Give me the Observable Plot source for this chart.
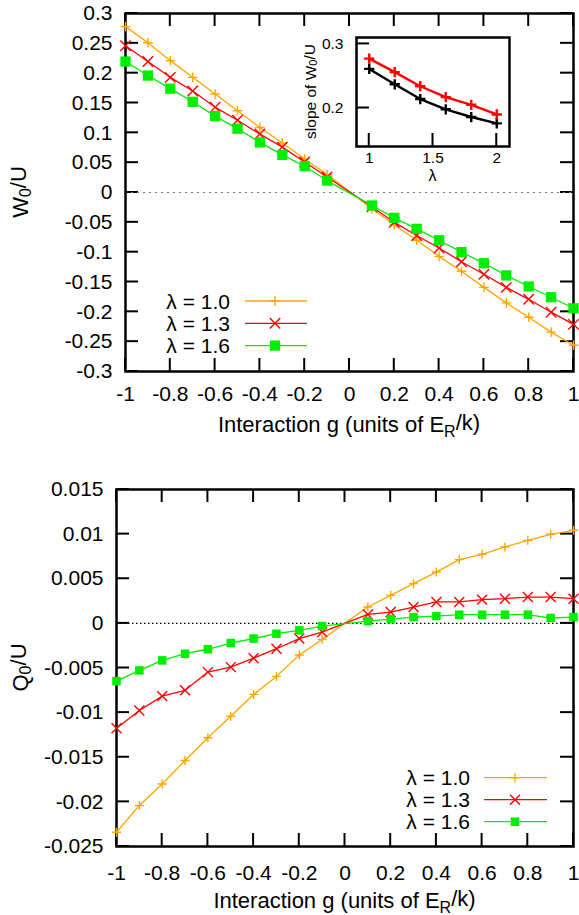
<!DOCTYPE html>
<html><head><meta charset="utf-8">
<script src="https://cdn.jsdelivr.net/npm/d3@7"></script>
<script src="https://cdn.jsdelivr.net/npm/@observablehq/plot@0.6"></script>
<style>
body{margin:0;background:#fff;}
#wrap{position:relative;width:579px;height:915px;background:#fff;font-family:"Liberation Sans",Arial,Helvetica,sans-serif;}
#wrap svg{position:absolute;overflow:visible;}
</style></head><body><div id="wrap"></div>
<script>
// ---------------- data ----------------
const gValues = [-1,-0.9,-0.8,-0.7,-0.6,-0.5,-0.4,-0.3,-0.2,-0.1,0.1,0.2,0.3,0.4,0.5,0.6,0.7,0.8,0.9,1];
const seriesNames = ["λ = 1.0","λ = 1.3","λ = 1.6"];
const seriesColors = ["#ffa500","#ff0000","#00ee00"];
const seriesSymbols = ["plus","times","square"];

// W0/U (top panel)
const W_l10 = [0.278,0.251,0.221,0.193,0.165,0.137,0.109,0.083,0.056,0.030,-0.027,-0.054,-0.080,-0.107,-0.132,-0.159,-0.185,-0.209,-0.234,-0.256];
const W_l13 = [0.246,0.2195,0.193,0.170,0.143,0.121,0.098,0.076,0.051,0.026,-0.024,-0.050,-0.072,-0.093,-0.116,-0.137,-0.159,-0.179,-0.2006,-0.221];
const W_l16 = [0.2195,0.196,0.174,0.152,0.128,0.107,0.084,0.063,0.044,0.020,-0.0218,-0.0425,-0.061,-0.080,-0.100,-0.1185,-0.139,-0.1575,-0.1755,-0.194];

// Q0/U (bottom panel)
const Q_l10 = [-0.0234,-0.0204,-0.0180,-0.01536,-0.01282,-0.0104,-0.00796,-0.00594,-0.00355,-0.00179,0.00183,0.00314,0.00445,0.00575,0.00714,0.00774,0.00856,0.0093,0.00998,0.01043];
const Q_l13 = [-0.01174,-0.00976,-0.00815,-0.0075,-0.00546,-0.0049,-0.0039,-0.00284,-0.0017,-0.00097,0.0010,0.00127,0.00183,0.0024,0.0024,0.00266,0.00277,0.00295,0.00295,0.00277];
const Q_l16 = [-0.00647,-0.00527,-0.00415,-0.0034,-0.0029,-0.0022,-0.0017,-0.00116,-0.00078,-0.0003,0.00026,0.00048,0.0007,0.00082,0.00097,0.00097,0.00097,0.00097,0.0006,0.0007];

// inset: slope of W0/U vs lambda
const insetLambda = [1,1.2,1.4,1.6,1.8,2];
const slopeRed = [0.277,0.256,0.234,0.217,0.205,0.190];
const slopeBlack = [0.261,0.237,0.214,0.198,0.186,0.176];

// ticks
const xTicks = [-1,-0.8,-0.6,-0.4,-0.2,0,0.2,0.4,0.6,0.8,1];
const yTicksW = [-0.3,-0.25,-0.2,-0.15,-0.1,-0.05,0,0.05,0.1,0.15,0.2,0.25,0.3];
const yTicksQ = [-0.025,-0.02,-0.015,-0.01,-0.005,0,0.005,0.01,0.015];
const insetXTicks = [1,1.5,2];
const insetYTicks = [0.2,0.3];

// --------------- drawing ---------------
const FONT = '"Liberation Sans", Arial, Helvetica, sans-serif';
const hy = d => Math.abs(d) < 1e-12 ? "0" : String(+(+d).toFixed(4));
const wrap = d3.select("#wrap");
const symType = {plus: d3.symbolPlus, times: d3.symbolTimes, square: d3.symbolSquare};
const TL = 13; // inward tick length (px)

// inward ticks, positioned with the plot's own scales, placed beneath the data
function addInwardTicks(p, xt, yt, sides, box){
  const svg = d3.select(p);
  const sx = p.scale("x"), sy = p.scale("y");
  const g = svg.insert("g", "g").style("stroke","#000").style("stroke-width","2px");
  const {x0, x1, y0, y1} = box;
  xt.forEach(v=>{
    const x = sx.apply(v);
    if (sides.includes("b")) g.append("path").attr("d",`M${x},${y1}V${y1-TL}`);
    if (sides.includes("t")) g.append("path").attr("d",`M${x},${y0}V${y0+TL}`);
  });
  yt.forEach(v=>{
    const y = sy.apply(v);
    if (sides.includes("l")) g.append("path").attr("d",`M${x0},${y}H${x0+TL}`);
    if (sides.includes("r")) g.append("path").attr("d",`M${x1},${y}H${x1-TL}`);
  });
}

function rowsOf(vals){ return gValues.map((g,i)=>({g, v: vals[i]})); }

function mainPanel(cfg){
  const marks = [
    Plot.ruleY([0], {stroke: cfg.zeroColor, strokeDasharray: cfg.zeroDash, strokeWidth: 1.2}),
    Plot.frame({strokeWidth:2.5}),
    Plot.axisX({ticks:xTicks, anchor:"bottom", tickSize:0, tickPadding:cfg.xPad, tickFormat:hy, label:null}),
    Plot.axisY({ticks:cfg.yTicks, anchor:"left", tickSize:0, tickPadding:13, tickFormat:hy, label:null})
  ];
  cfg.series.forEach((vals,i)=>{
    const rows = rowsOf(vals);
    marks.push(Plot.line(rows, {x:"g", y:"v", stroke:seriesColors[i], strokeWidth:1.3}));
    if (seriesSymbols[i] === "square")
      marks.push(Plot.dot(rows, {x:"g", y:"v", symbol:"square", r:cfg.r[i], fill:seriesColors[i], stroke:"none"}));
    else
      marks.push(Plot.dot(rows, {x:"g", y:"v", symbol:seriesSymbols[i], r:cfg.r[i], stroke:seriesColors[i], strokeWidth:1.4}));
  });
  const p = Plot.plot({
    width:579, height:cfg.height,
    marginLeft:cfg.mL, marginRight:cfg.mR, marginTop:cfg.mT, marginBottom:cfg.mB,
    x:{domain:[-1,1]}, y:{domain:cfg.yDomain},
    style:{fontFamily:FONT, fontSize:"21px", color:"#000", background:"transparent", overflow:"visible"},
    marks
  });
  p.style.left = "0px"; p.style.top = cfg.top + "px";
  wrap.node().appendChild(p);
  const svg = d3.select(p);
  const x0 = cfg.mL, x1 = 579 - cfg.mR;
  const yTop = cfg.mT, yBot = cfg.height - cfg.mB;
  addInwardTicks(p, xTicks, cfg.yTicks, "btlr", {x0, x1, y0:yTop, y1:yBot});
  // y title
  const yt = svg.append("text").attr("transform", `translate(20,${(yTop+yBot)/2}) rotate(-90)`)
    .attr("text-anchor","middle").attr("dominant-baseline","central")
    .style("font-family",FONT).style("font-size","22px").attr("fill","#000");
  yt.append("tspan").text(cfg.yName);
  yt.append("tspan").attr("dy","0.3em").style("font-size","16px").text("0");
  yt.append("tspan").attr("dy","-0.3em").text("/U");
  // x title
  const xt = svg.append("text").attr("x",(x0+x1)/2).attr("y",cfg.xTitleY)
    .attr("text-anchor","middle").style("font-family",FONT).style("font-size","22px").attr("fill","#000");
  xt.append("tspan").text("Interaction g (units of E");
  xt.append("tspan").attr("dy","0.3em").style("font-size","16px").text("R");
  xt.append("tspan").attr("dy","-0.3em").text("/k)");
  // legend
  const lg = cfg.legend;
  seriesNames.forEach((name,i)=>{
    const y = lg.y0 + i*lg.dy;
    svg.append("text").attr("x",lg.textX).attr("y",y).attr("text-anchor","end").attr("dominant-baseline","central")
      .style("font-family",FONT).style("font-size","21px").attr("fill","#000").text(name);
    svg.append("line").attr("x1",lg.lx1).attr("x2",lg.lx2).attr("y1",y).attr("y2",y)
      .attr("stroke",seriesColors[i]).attr("stroke-width",1.3);
    const sym = d3.symbol(symType[seriesSymbols[i]], Math.PI*cfg.r[i]*cfg.r[i]);
    const path = svg.append("path").attr("transform",`translate(${lg.mx},${y})`).attr("d",sym());
    if (seriesSymbols[i]==="square") path.attr("fill",seriesColors[i]);
    else path.attr("fill","none").attr("stroke",seriesColors[i]).attr("stroke-width",1.4);
  });
  return p;
}

// top panel
mainPanel({
  top:0, height:450, mL:125, mR:6, mT:13, mB:79,
  yDomain:[-0.3,0.3], yTicks:yTicksW, series:[W_l10,W_l13,W_l16],
  zeroColor:"#777", zeroDash:"2,4", xPad:14.5, r:[3.2,4.8,5.8],
  yName:"W", xTitleY:432,
  legend:{y0:301, dy:22.3, textX:230, lx1:245, lx2:307, mx:275}
});

// bottom panel
mainPanel({
  top:450, height:465, mL:116, mR:6, mT:39, mB:69,
  yDomain:[-0.025,0.015], yTicks:yTicksQ, series:[Q_l10,Q_l13,Q_l16],
  zeroColor:"#000", zeroDash:"1.5,2.5", xPad:18.5, r:[3.0,4.6,4.8],
  yName:"Q", xTitleY:458,
  legend:{y0:327.7, dy:22, textX:470, lx1:484, lx2:547, mx:515}
});

// inset
const insetRows = (vals)=>insetLambda.map((l,i)=>({l, v: vals[i]}));
const IW = 230, IH = 165, IML = 66, IMR = 11, IMT = 12, IMB = 44;
const inset = Plot.plot({
  width:IW, height:IH, marginLeft:IML, marginRight:IMR, marginTop:IMT, marginBottom:IMB,
  x:{domain:[0.9,2.1]}, y:{domain:[0.14,0.31]},
  style:{fontFamily:FONT, fontSize:"15.5px", color:"#000", background:"transparent", overflow:"visible"},
  marks:[
    Plot.frame({fill:"white", stroke:"none"}),
    Plot.frame({stroke:"black", strokeWidth:2.5}),
    Plot.axisX({ticks:insetXTicks, anchor:"bottom", tickSize:0, tickPadding:5.5, tickFormat:hy, label:null}),
    Plot.axisY({ticks:insetYTicks, anchor:"left", tickSize:0, tickPadding:13, tickFormat:hy, label:null}),
    Plot.line(insetRows(slopeBlack), {x:"l", y:"v", stroke:"#000", strokeWidth:2.4}),
    Plot.dot(insetRows(slopeBlack), {x:"l", y:"v", symbol:"plus", r:3.4, stroke:"#000", strokeWidth:2.4}),
    Plot.line(insetRows(slopeRed), {x:"l", y:"v", stroke:"#ff0000", strokeWidth:2.4}),
    Plot.dot(insetRows(slopeRed), {x:"l", y:"v", symbol:"plus", r:3.4, stroke:"#ff0000", strokeWidth:2.4})
  ]
});
inset.style.left = "290px"; inset.style.top = "25px";
wrap.node().appendChild(inset);
{
  const svg = d3.select(inset);
  const cx = (IML + IW - IMR)/2, cy = (IMT + IH - IMB)/2;
  // ticks drawn after the white background so they stay visible
  const sx = inset.scale("x"), sy = inset.scale("y");
  const g = svg.append("g").style("stroke","#000").style("stroke-width","2px");
  insetXTicks.forEach(v=>{ const x = sx.apply(v); g.append("path").attr("d",`M${x},${IH-IMB}V${IH-IMB-TL}`); });
  insetYTicks.forEach(v=>{ const y = sy.apply(v); g.append("path").attr("d",`M${IML},${y}H${IML+TL}`); });
  const lt = svg.append("text").attr("transform",`translate(20,${cy}) rotate(-90)`)
    .attr("text-anchor","middle").attr("dominant-baseline","central")
    .style("font-family",FONT).style("font-size","15.5px").attr("fill","#000");
  lt.append("tspan").text("slope of W");
  lt.append("tspan").attr("dy","0.3em").style("font-size","11px").text("0");
  lt.append("tspan").attr("dy","-0.3em").text("/U");
  svg.append("text").attr("x",cx).attr("y",150).attr("text-anchor","middle").attr("dominant-baseline","central")
    .style("font-family",FONT).style("font-size","16px").attr("fill","#000").text("λ");
}
</script></body></html>
